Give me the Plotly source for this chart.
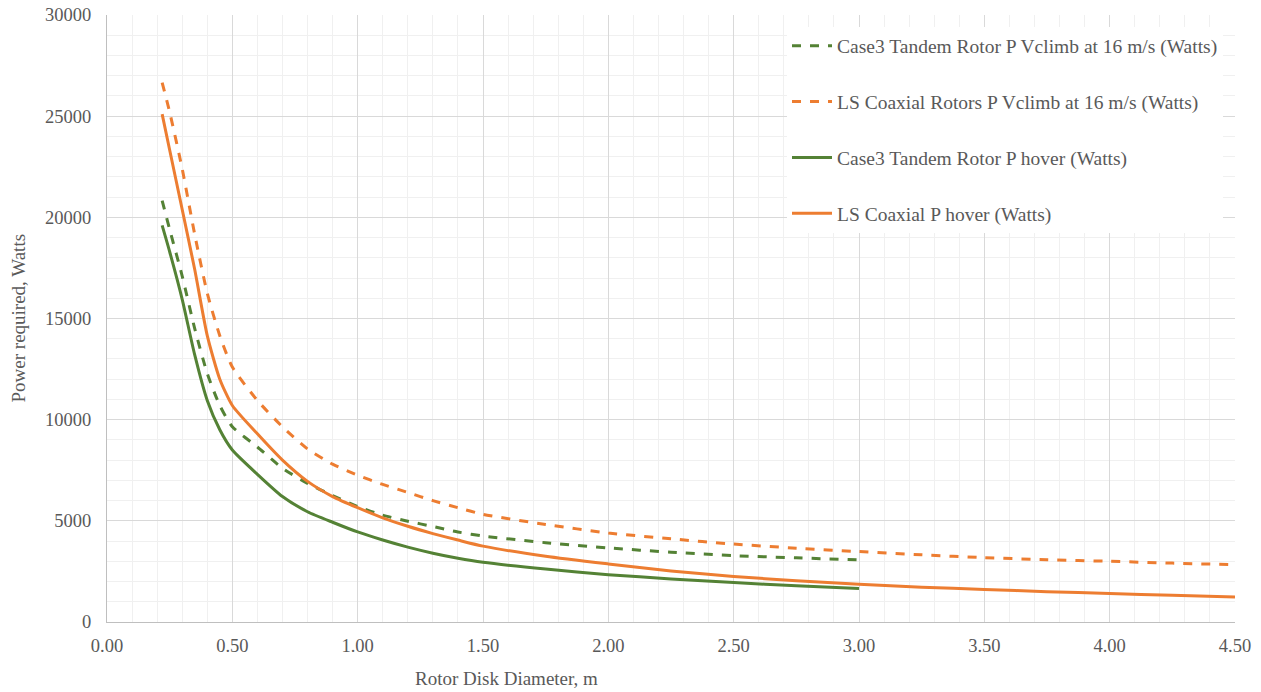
import plotly.graph_objects as go

# ---- data ----
green_x = [0.22, 0.25, 0.3, 0.35, 0.4, 0.45, 0.5, 0.6, 0.7, 0.8, 0.9, 1.0, 1.1, 1.2,
           1.3, 1.4, 1.5, 1.75, 2.0, 2.25, 2.5, 2.75, 3.0]
orange_x = green_x + [3.25, 3.5, 3.75, 4.0, 4.25, 4.5]

case3_climb = [20830, 19400, 17100, 14500, 12280, 10700, 9650, 8650, 7600, 6850, 6250,
               5700, 5280, 4980, 4720, 4450, 4250, 3920, 3660, 3450, 3280, 3170, 3070]
ls_climb = [26660, 25200, 22400, 19150, 16250, 14150, 12600, 10950, 9650, 8550, 7800,
            7250, 6800, 6400, 6000, 5650, 5320, 4820, 4400, 4110, 3850, 3650, 3480,
            3320, 3180, 3080, 3000, 2910, 2830]
case3_hover = [19600, 18300, 15950, 13200, 10950, 9500, 8500, 7300, 6200, 5450, 4930,
               4450, 4050, 3700, 3400, 3150, 2950, 2620, 2340, 2130, 1950, 1790, 1650]
ls_hover = [25100, 23330, 20390, 17420, 14150, 12000, 10700, 9300, 8000, 6950, 6200,
            5650, 5150, 4730, 4370, 4050, 3750, 3250, 2870, 2520, 2250, 2040, 1860,
            1720, 1610, 1500, 1410, 1320, 1240]

names = ["Case3 Tandem Rotor P Vclimb at 16 m/s (Watts)",
         "LS Coaxial Rotors P Vclimb at 16 m/s (Watts)",
         "Case3 Tandem Rotor P hover (Watts)",
         "LS Coaxial P hover (Watts)"]

GREEN = "#548235"
ORANGE = "#ED7D31"
TXT = "#595959"
FONT = "Liberation Serif"

W, H = 1261, 692
ML, MR, MT, MB = 107, 26, 15, 70
PW, PH = W - ML - MR, H - MT - MB

fig = go.Figure()
series = [
    (green_x, case3_climb, names[0], GREEN, "dash"),
    (orange_x, ls_climb, names[1], ORANGE, "dash"),
    (green_x, case3_hover, names[2], GREEN, "solid"),
    (orange_x, ls_hover, names[3], ORANGE, "solid"),
]
for i, (xs, ys, nm, col, dash) in enumerate(series):
    fig.add_trace(go.Scatter(
        x=xs, y=ys, name=nm, mode="lines",
        line=dict(color=col, width=3, dash=dash, shape="spline", smoothing=0.6),
        legendgroup=f"g{i}",
    ))

fig.update_layout(
    width=W, height=H,
    margin=dict(l=ML, r=MR, t=MT, b=MB, autoexpand=False),
    paper_bgcolor="white", plot_bgcolor="white",
    font=dict(family=FONT, size=18.5, color=TXT),
    showlegend=True,
    legend=dict(
        x=(787 - 107) / PW, y=1 - (26.5 - 15) / PH, xanchor="left", yanchor="top",
        bgcolor="white", borderwidth=0,
        font=dict(family=FONT, size=19.5, color=TXT),
        traceorder="grouped", tracegroupgap=27.5,
        itemwidth=40,
    ),
    xaxis=dict(
        range=[0, 4.5], dtick=0.5, tick0=0, tickformat=".2f",
        showgrid=True, gridcolor="#d9d9d9", gridwidth=1,
        minor=dict(dtick=0.1, showgrid=True, gridcolor="#f0f0f0", gridwidth=1),
        showline=True, linecolor="#bfbfbf", linewidth=1,
        zeroline=False, ticks="", ticklabelstandoff=7,
        ticklabeloverflow="allow", automargin=False,
        tickfont=dict(family=FONT, size=18.5, color=TXT),
    ),
    yaxis=dict(
        range=[0, 30000], dtick=5000, tick0=0, tickformat="d",
        showgrid=True, gridcolor="#d9d9d9", gridwidth=1,
        minor=dict(dtick=1000, showgrid=True, gridcolor="#f0f0f0", gridwidth=1),
        showline=True, linecolor="#bfbfbf", linewidth=1,
        zeroline=False, ticks="", ticklabelstandoff=11,
        ticklabeloverflow="allow", automargin=False,
        tickfont=dict(family=FONT, size=18.5, color=TXT),
    ),
)

fig.add_annotation(text="Rotor Disk Diameter, m", xref="paper", yref="paper",
                   x=(506 - 107) / PW, y=-(678 - 622) / PH, xanchor="center",
                   yanchor="middle", showarrow=False,
                   font=dict(family=FONT, size=19, color=TXT))
fig.add_annotation(text="Power required, Watts", xref="paper", yref="paper",
                   x=-(107 - 18) / PW, y=0.5, xanchor="center", yanchor="middle",
                   textangle=-90, showarrow=False,
                   font=dict(family=FONT, size=19, color=TXT))

# remove the default page margin so the figure fills the window exactly
fig.write_html("out.html",
               config={"displayModeBar": False},
               post_script="document.body.style.margin='0';"
                           "document.body.style.overflow='hidden';")
